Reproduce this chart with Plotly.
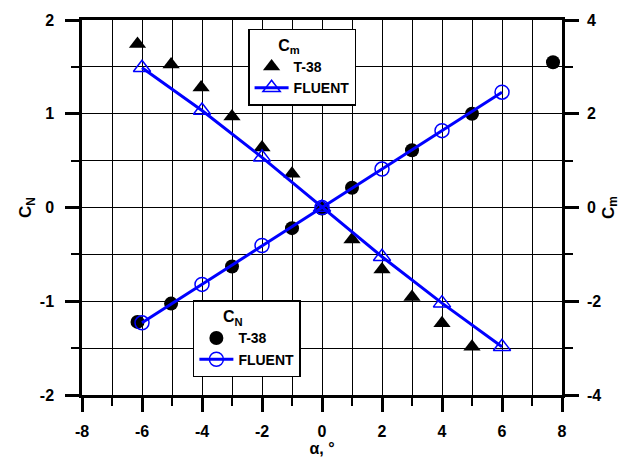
import plotly.graph_objects as go

# C_N data (left axis)
cn_t38_alpha = [-6.15, -5.03, -3.0, -1.0, 0.0, 1.0, 3.0, 5.0, 7.7]
cn_t38 = [-1.22, -1.025, -0.63, -0.22, -0.01, 0.21, 0.61, 1.0, 1.55]
cn_fl_alpha = [-6, -4, -2, 0, 2, 4, 6]
cn_fl = [-1.23, -0.82, -0.405, 0.0, 0.41, 0.82, 1.23]

# C_m data (right axis)
cm_t38_alpha = [-6.15, -5.03, -4.03, -3.0, -2.0, -1.0, 1.0, 2.0, 3.0, 4.0, 5.0]
cm_t38 = [3.49, 3.05, 2.56, 1.94, 1.28, 0.72, -0.68, -1.32, -1.91, -2.47, -2.97]
cm_fl_alpha = [-6, -4, -2, 0, 2, 4, 6]
cm_fl = [2.98, 2.07, 1.07, 0.0, -1.05, -2.04, -2.97]

# tick labels
x_ticks = [-8, -6, -4, -2, 0, 2, 4, 6, 8]
x_labels = ["-8", "-6", "-4", "-2", "0", "2", "4", "6", "8"]
y_ticks = [-2, -1, 0, 1, 2]
y_labels = ["-2", "-1", "0", "1", "2"]
y2_ticks = [-4, -2, 0, 2, 4]
y2_labels = ["-4", "-2", "0", "2", "4"]

BLUE = "#0000ff"
FONT = "Liberation Sans"

fig = go.Figure()

fig.add_trace(go.Scatter(x=cn_t38_alpha, y=cn_t38, mode="markers", name="T-38",
                         marker=dict(symbol="circle", size=14, color="black"),
                         legend="legend2"))
fig.add_trace(go.Scatter(x=cn_fl_alpha, y=cn_fl, mode="lines+markers", name="FLUENT",
                         line=dict(color=BLUE, width=3),
                         marker=dict(symbol="circle-open", size=14, color=BLUE,
                                     line=dict(width=1.5, color=BLUE)),
                         legend="legend2"))
fig.add_trace(go.Scatter(x=cm_t38_alpha, y=cm_t38, mode="markers", name="T-38",
                         marker=dict(symbol="triangle-up", size=15, color="black"),
                         yaxis="y2", legend="legend"))
fig.add_trace(go.Scatter(x=cm_fl_alpha, y=cm_fl, mode="lines+markers", name="FLUENT",
                         line=dict(color=BLUE, width=3),
                         marker=dict(symbol="triangle-up-open", size=15, color=BLUE,
                                     line=dict(width=1.5, color=BLUE)),
                         yaxis="y2", legend="legend"))

tickfont = dict(family=FONT, size=16, color="black", weight=700)
legfont = dict(family=FONT, size=14, color="black", weight=700)
NB = "&nbsp;" * 6

fig.update_layout(
    width=632, height=465,
    margin=dict(l=82, r=70, t=17, b=65),
    paper_bgcolor="white", plot_bgcolor="white",
    font=dict(family=FONT, color="black", weight=700),
    xaxis=dict(range=[-8, 8], tickmode="array", tickvals=x_ticks, ticktext=x_labels,
               showline=True, linewidth=2.5, linecolor="black", mirror=True,
               ticks="outside", ticklen=14, tickwidth=2.5, tickcolor="black",
               showgrid=True, gridcolor="black", gridwidth=1,
               zeroline=False,
               minor=dict(dtick=1, tick0=0, ticks="outside", ticklen=8, tickwidth=2,
                          tickcolor="black", showgrid=True, gridcolor="black", gridwidth=1),
               tickfont=tickfont, ticklabelstandoff=6,
               title=dict(text="α, °", font=dict(family=FONT, size=16, weight=700), standoff=2)),
    yaxis=dict(range=[-2, 2], tickmode="array", tickvals=y_ticks, ticktext=y_labels,
               showline=True, linewidth=2.5, linecolor="black",
               ticks="outside", ticklen=14, tickwidth=2.5, tickcolor="black",
               showgrid=True, gridcolor="black", gridwidth=1,
               zeroline=False,
               minor=dict(dtick=0.5, tick0=0, ticks="outside", ticklen=8, tickwidth=2,
                          tickcolor="black", showgrid=True, gridcolor="black", gridwidth=1),
               tickfont=tickfont, ticklabelstandoff=8,
               title=dict(text="C<sub>N</sub>", font=dict(family=FONT, size=17, weight=700), standoff=4)),
    yaxis2=dict(range=[-4, 4], tickmode="array", tickvals=y2_ticks, ticktext=y2_labels,
                overlaying="y", side="right",
                showline=True, linewidth=2.5, linecolor="black",
                ticks="outside", ticklen=14, tickwidth=2.5, tickcolor="black",
                showgrid=False, zeroline=False,
                minor=dict(dtick=1, tick0=0, ticks="outside", ticklen=8, tickwidth=2, tickcolor="black"),
                tickfont=tickfont, ticklabelstandoff=5,
                title=dict(text="C<sub>m</sub>", font=dict(family=FONT, size=17, weight=700), standoff=2)),
    legend=dict(x=0.346, y=0.977, xanchor="left", yanchor="top",
                bgcolor="white", bordercolor="black", borderwidth=1.5,
                font=legfont,
                title=dict(text=NB + "C<sub>m</sub>", side="top",
                           font=dict(family=FONT, size=16, weight=700)),
                itemwidth=34, tracegroupgap=0),
    legend2=dict(x=0.231, y=0.253, xanchor="left", yanchor="top",
                 bgcolor="white", bordercolor="black", borderwidth=1.5,
                 font=legfont,
                 title=dict(text=NB + "C<sub>N</sub>", side="top",
                            font=dict(family=FONT, size=16, weight=700)),
                 itemwidth=34, tracegroupgap=0),
)

fig.write_html("out.html")
